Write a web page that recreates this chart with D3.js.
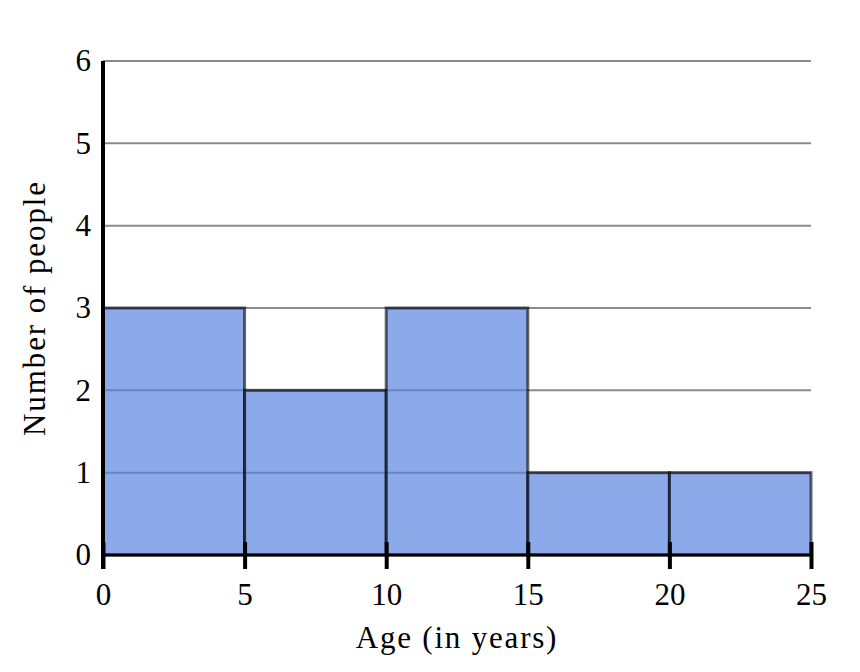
<!DOCTYPE html>
<html><head><meta charset="utf-8">
<script src="https://cdn.jsdelivr.net/npm/d3@7"></script>
<style>body{margin:0;background:#fff}svg{display:block}text{font-family:"Liberation Serif","DejaVu Serif",serif;fill:#000}</style>
</head><body>
<script>
const binStarts = [0, 5, 10, 15, 20];
const binWidth = 5;
const counts = [3, 2, 3, 1, 1];
const xTicks = [0, 5, 10, 15, 20, 25];
const yTicks = [0, 1, 2, 3, 4, 5, 6];
const xTitle = "Age (in years)";
const yTitle = "Number of people";

const W = 860, H = 672;
const svg = d3.select("body").append("svg").attr("width", W).attr("height", H);
const x = d3.scaleLinear().domain([0, 25]).range([103, 811]);
const y = d3.scaleLinear().domain([0, 6]).range([555, 61]);

// gridlines
svg.append("g").selectAll("line").data(yTicks.filter(d => d > 0)).join("line")
  .attr("x1", x(0)).attr("x2", x(25)).attr("y1", d => y(d)).attr("y2", d => y(d))
  .attr("stroke", "#8a8a8a").attr("stroke-width", 2);

// bars
svg.append("g").selectAll("rect").data(counts).join("rect")
  .attr("x", (d, i) => x(binStarts[i]))
  .attr("width", (d, i) => x(binStarts[i] + binWidth) - x(binStarts[i]))
  .attr("y", d => y(d)).attr("height", d => y(0) - y(d))
  .attr("fill", "rgba(86,130,222,0.68)")
  .attr("stroke", "rgba(0,0,0,0.6)").attr("stroke-width", 3);

// x axis
const xAxis = d3.axisBottom(x).tickValues(xTicks).tickFormat(d3.format("d")).tickSize(0).tickPadding(0);
const gx = svg.append("g").attr("transform", `translate(0,${y(0)})`).call(xAxis);
gx.select(".domain").remove();
gx.selectAll(".tick text").attr("font-size", 31).attr("dy", 0).attr("y", 50).attr("font-family", "Liberation Serif");
gx.selectAll(".tick").append("line").attr("y1", -13).attr("y2", 14).attr("stroke", "#000").attr("stroke-width", 4);
svg.append("line").attr("x1", x(0)).attr("x2", x(25)).attr("y1", y(0)).attr("y2", y(0)).attr("stroke", "#000").attr("stroke-width", 3);

// y axis
const yAxis = d3.axisLeft(y).tickValues(yTicks).tickFormat(d3.format("d")).tickSize(0).tickPadding(0);
const gy = svg.append("g").attr("transform", `translate(${x(0)},0)`).call(yAxis);
gy.select(".domain").remove();
gy.selectAll(".tick text").attr("font-size", 31).attr("x", -12).attr("dy", "0.32em").attr("font-family", "Liberation Serif");
svg.append("line").attr("x1", x(0)).attr("x2", x(0)).attr("y1", y(6)).attr("y2", y(0) + 14).attr("stroke", "#000").attr("stroke-width", 4);

// titles
svg.append("text").attr("x", 457).attr("y", 648).attr("text-anchor", "middle").attr("font-size", 31).attr("letter-spacing", 1.8).text(xTitle);
svg.append("text").attr("transform", `translate(45,${308}) rotate(-90)`).attr("text-anchor", "middle").attr("font-size", 31).attr("letter-spacing", 1.9).text(yTitle);
</script>
</body></html>
